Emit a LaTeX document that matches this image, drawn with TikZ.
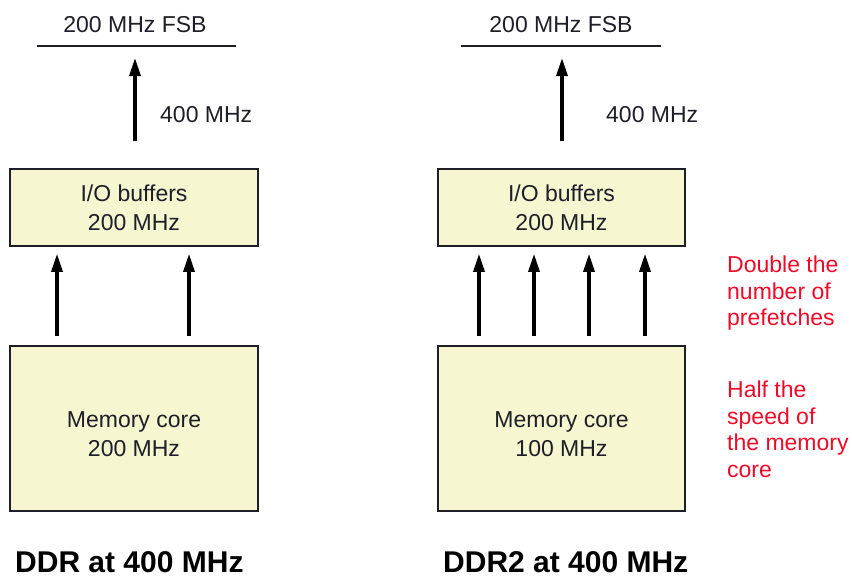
\documentclass[tikz,border=0pt]{standalone}
\usepackage{fontspec}
\setmainfont{Liberation Sans}
\usetikzlibrary{arrows.meta,calc}
\definecolor{boxfill}{RGB}{246,246,208}
\definecolor{txt}{RGB}{30,30,40}
\definecolor{note}{RGB}{240,10,40}
\tikzset{
  blk/.style={draw=txt, line width=1.6pt, fill=boxfill, minimum width=248pt, inner sep=0pt, align=center, text=txt, font=\fontsize{23}{29}\selectfont},
  arr/.style={line width=3.2pt, draw=black, -{Triangle[length=18pt,width=11pt]}},
  lbl/.style={text=txt, font=\fontsize{23}{25}\selectfont, inner sep=0pt},
  note/.style={text=note, font=\fontsize{23}{26.5}\selectfont, align=left, inner sep=0pt, anchor=north west},
  ttl/.style={text=black, font=\bfseries\fontsize{30}{32}\selectfont, inner sep=0pt},
  bus/.style={line width=1.6pt, draw=txt}
}
\begin{document}
\begin{tikzpicture}[x=1pt,y=-1pt]
\useasboundingbox (0,0) rectangle (852,582);
% ---------- left: DDR ----------
\node[lbl] (fsbA) at (135,25) {200 MHz FSB};
\coordinate (fsbAL) at (37,46);
\coordinate (fsbAR) at (236,46);
\draw[bus] (fsbAL) -- (fsbAR);
\node[blk, minimum height=77pt] (ioA) at (134,207.5) {I/O buffers\\200 MHz};
\node[blk, minimum height=165pt] (memA) at (134,428.5) {};
\node[blk, draw=none, fill=none, minimum width=0pt] (memAt) at (134,434) {Memory core\\200 MHz};
\node[lbl, anchor=west] (fA) at (160,115) {400 MHz};
\coordinate (tA) at (135,58);
\draw[arr, shorten <=27pt] (ioA.north -| tA) -- (tA);
\foreach \x in {57,189}{
  \draw[arr, shorten <=9pt, shorten >=7pt] (memA.north -| \x,0) -- (ioA.south -| \x,0);
}
\node[ttl, anchor=west] (tiA) at (15,562) {DDR at 400 MHz};
% ---------- right: DDR2 ----------
\node[lbl] (fsbB) at (561,25) {200 MHz FSB};
\coordinate (fsbBL) at (461,46);
\coordinate (fsbBR) at (661,46);
\draw[bus] (fsbBL) -- (fsbBR);
\node[blk, minimum height=77pt, minimum width=247pt] (ioB) at (561.5,207.5) {I/O buffers\\200 MHz};
\node[blk, minimum height=165pt, minimum width=247pt] (memB) at (561.5,428.5) {};
\node[blk, draw=none, fill=none, minimum width=0pt] (memBt) at (561.5,434) {Memory core\\100 MHz};
\node[lbl, anchor=west] (fB) at (606,115) {400 MHz};
\coordinate (tB) at (562,58);
\draw[arr, shorten <=27pt] (ioB.north -| tB) -- (tB);
\foreach \x in {479,534,589,645}{
  \draw[arr, shorten <=9pt, shorten >=7pt] (memB.north -| \x,0) -- (ioB.south -| \x,0);
}
\node[ttl, anchor=west] (tiB) at (443,562) {DDR2 at 400 MHz};
\node[note] (n1) at (727,256) {Double the\\number of\\prefetches};
\node[note] (n2) at (727,381) {Half the\\speed of\\the memory\\core};
\end{tikzpicture}
\end{document}
